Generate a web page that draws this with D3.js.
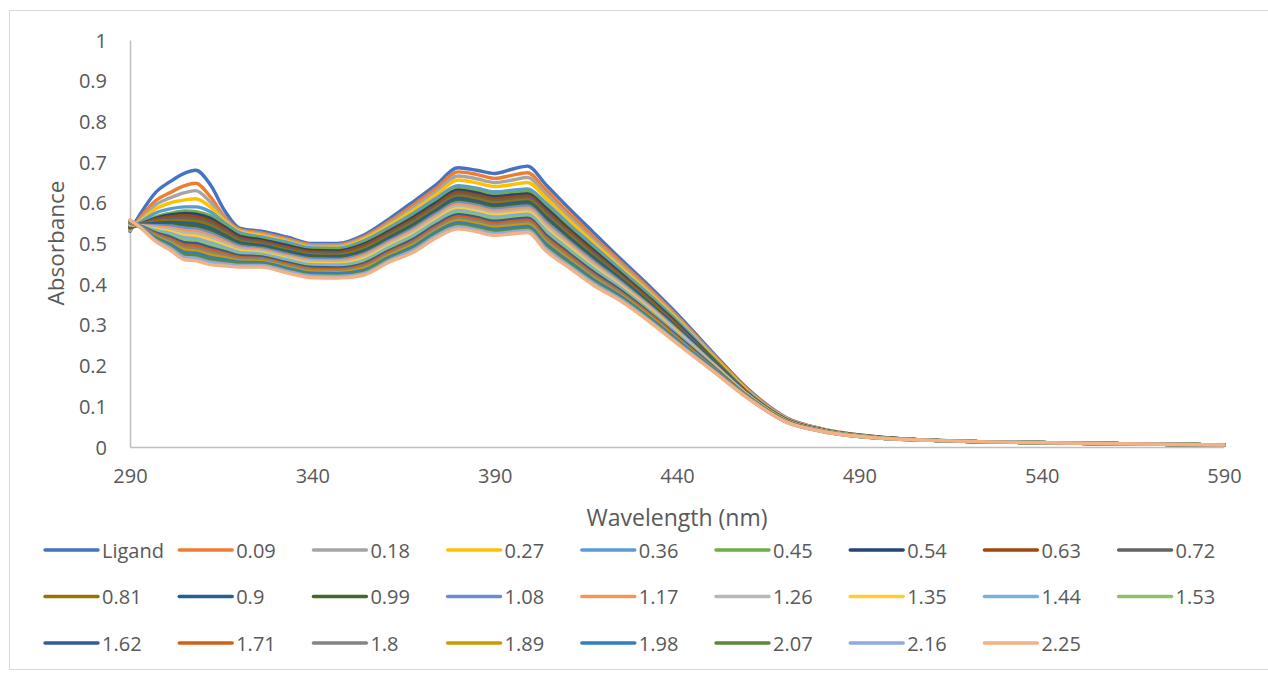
<!DOCTYPE html>
<html>
<head>
<meta charset="utf-8">
<script src="https://cdn.jsdelivr.net/npm/d3@7"></script>
<style>
  html, body { margin: 0; padding: 0; background: #fff; }
  svg { display: block; font-family: "Open Sans", "Noto Sans", sans-serif; }
</style>
</head>
<body>
<svg id="chart" width="1268" height="677"></svg>
<script>
// Wavelength grid (nm)
const wavelengths = [290,293,297,301,305,308,312,316,320,326,333,340,347,354,361,368,374,380,385,390,395,399,404,410,417,425,433,441,450,460,470,480,495,515,545,590];

// Titration series: free ligand, then added equivalents
const seriesNames = ["Ligand","0.09","0.18","0.27","0.36","0.45","0.54","0.63","0.72","0.81","0.9","0.99","1.08","1.17","1.26","1.35","1.44","1.53","1.62","1.71","1.8","1.89","1.98","2.07","2.16","2.25"];

const seriesColors = ["#4472C4","#ED7D31","#A5A5A5","#FFC000","#5B9BD5","#70AD47","#264478","#9E480E","#636363","#997300","#255E91","#43682B","#698ED0","#F1975A","#B7B7B7","#FFCD33","#7CAFDD","#8CC168","#335AA1","#D26012","#848484","#CC9A00","#327EC2","#5A8A39","#8FAADC","#F4B183"];

// Absorbance of each series at the wavelengths above
const absorbance = [
  [.530,.575,.625,.652,.673,.680,.645,.580,.538,.530,.516,.500,.500,.520,.560,.605,.645,.686,.680,.672,.683,.690,.645,.590,.528,.458,.390,.318,.230,.138,.072,.044,.025,.015,.010,.005],
  [.532,.566,.605,.625,.642,.648,.615,.565,.535,.526,.512,.497,.497,.516,.554,.597,.636,.676,.670,.660,.668,.674,.632,.578,.518,.451,.384,.313,.227,.136,.071,.044,.025,.015,.010,.005],
  [.533,.561,.595,.612,.625,.630,.602,.560,.532,.523,.509,.494,.494,.513,.549,.590,.628,.666,.659,.650,.656,.662,.622,.568,.510,.444,.379,.309,.224,.134,.070,.043,.025,.015,.010,.005],
  [.535,.557,.585,.600,.607,.610,.590,.555,.530,.520,.506,.491,.491,.510,.544,.583,.620,.656,.649,.640,.645,.650,.612,.560,.503,.438,.374,.305,.221,.132,.069,.043,.024,.015,.010,.005],
  [.536,.553,.575,.585,.590,.590,.578,.550,.527,.516,.503,.489,.488,.506,.539,.576,.611,.642,.636,.627,.631,.634,.600,.550,.495,.432,.369,.301,.218,.130,.068,.042,.024,.015,.010,.005],
  [.538,.548,.565,.574,.580,.578,.568,.545,.522,.512,.498,.486,.485,.502,.534,.570,.604,.636,.629,.620,.624,.627,.592,.543,.488,.426,.364,.297,.215,.128,.067,.042,.024,.015,.010,.005],
  [.539,.548,.562,.570,.574,.572,.562,.540,.518,.509,.495,.483,.482,.498,.530,.566,.600,.631,.624,.615,.619,.622,.587,.538,.484,.423,.361,.295,.214,.127,.067,.042,.024,.015,.010,.005],
  [.540,.547,.559,.565,.568,.566,.556,.535,.514,.505,.491,.479,.478,.494,.526,.561,.595,.626,.619,.610,.614,.617,.581,.533,.479,.419,.358,.292,.212,.127,.066,.042,.024,.015,.010,.005],
  [.541,.547,.556,.561,.562,.560,.550,.530,.510,.502,.488,.476,.475,.490,.522,.557,.591,.621,.614,.605,.609,.612,.576,.528,.475,.416,.355,.290,.211,.126,.066,.041,.024,.015,.010,.005],
  [.542,.546,.553,.556,.556,.554,.544,.525,.506,.498,.484,.472,.471,.486,.518,.552,.586,.616,.609,.600,.604,.607,.570,.523,.470,.412,.352,.287,.209,.126,.066,.041,.023,.015,.010,.005],
  [.543,.546,.550,.552,.550,.548,.538,.520,.502,.495,.481,.469,.468,.482,.514,.548,.582,.611,.604,.595,.599,.602,.565,.518,.466,.409,.349,.285,.208,.125,.066,.041,.023,.015,.010,.005],
  [.544,.545,.547,.547,.544,.542,.532,.515,.498,.491,.477,.465,.464,.478,.510,.543,.577,.606,.599,.590,.594,.597,.559,.513,.461,.405,.346,.282,.206,.124,.065,.041,.023,.015,.010,.005],
  [.545,.545,.544,.543,.538,.536,.526,.510,.494,.488,.474,.462,.461,.474,.506,.539,.573,.601,.594,.585,.589,.592,.554,.508,.457,.402,.343,.280,.205,.124,.065,.041,.023,.015,.010,.005],
  [.546,.544,.541,.538,.532,.530,.520,.505,.490,.484,.470,.458,.457,.470,.502,.534,.568,.596,.589,.580,.584,.587,.548,.503,.452,.398,.340,.277,.203,.123,.065,.040,.023,.015,.010,.005],
  [.547,.544,.538,.534,.526,.524,.514,.500,.486,.481,.467,.455,.454,.466,.498,.530,.564,.591,.584,.575,.579,.582,.543,.498,.448,.395,.337,.275,.202,.123,.064,.040,.023,.015,.010,.005],
  [.548,.543,.535,.529,.520,.518,.508,.495,.482,.477,.463,.451,.450,.462,.494,.525,.559,.586,.579,.570,.574,.577,.537,.493,.443,.391,.334,.272,.200,.122,.064,.040,.023,.015,.010,.005],
  [.549,.543,.532,.525,.514,.512,.502,.490,.478,.474,.460,.448,.447,.458,.490,.521,.555,.581,.574,.565,.569,.572,.532,.488,.439,.388,.331,.270,.199,.121,.064,.040,.023,.015,.010,.005],
  [.550,.542,.529,.520,.508,.506,.496,.485,.474,.470,.456,.444,.443,.454,.486,.516,.550,.576,.569,.560,.564,.567,.526,.483,.434,.384,.328,.267,.197,.121,.063,.040,.023,.015,.010,.005],
  [.551,.542,.526,.516,.502,.500,.490,.480,.470,.467,.453,.441,.440,.450,.482,.512,.546,.571,.564,.555,.559,.562,.521,.478,.430,.381,.325,.265,.196,.120,.063,.039,.023,.015,.010,.005],
  [.552,.541,.523,.511,.496,.494,.484,.475,.466,.463,.449,.437,.436,.446,.478,.507,.541,.566,.559,.550,.554,.557,.515,.473,.425,.377,.322,.262,.194,.120,.063,.039,.023,.015,.010,.005],
  [.553,.541,.520,.507,.490,.488,.478,.470,.462,.460,.446,.434,.433,.442,.474,.503,.537,.561,.554,.545,.549,.552,.510,.468,.421,.374,.319,.260,.193,.119,.062,.039,.022,.015,.010,.005],
  [.554,.540,.517,.502,.484,.482,.472,.465,.458,.456,.442,.430,.429,.438,.470,.498,.532,.556,.549,.540,.544,.547,.504,.463,.416,.370,.316,.257,.191,.118,.062,.039,.022,.015,.010,.005],
  [.555,.540,.514,.498,.478,.476,.466,.460,.454,.453,.439,.427,.426,.434,.466,.494,.528,.551,.544,.535,.539,.542,.499,.458,.412,.367,.313,.255,.190,.118,.062,.039,.022,.015,.010,.005],
  [.556,.539,.511,.493,.472,.470,.460,.455,.450,.449,.435,.423,.422,.430,.462,.489,.523,.546,.539,.530,.534,.537,.493,.453,.407,.363,.310,.252,.188,.117,.062,.038,.022,.015,.010,.005],
  [.557,.539,.508,.489,.466,.464,.454,.450,.446,.446,.432,.420,.419,.426,.458,.485,.519,.541,.534,.525,.529,.532,.488,.448,.403,.360,.307,.250,.187,.117,.061,.038,.022,.015,.010,.005],
  [.558,.538,.505,.484,.460,.458,.448,.445,.442,.442,.428,.416,.415,.422,.454,.480,.514,.536,.529,.520,.524,.527,.482,.443,.398,.356,.304,.247,.185,.116,.061,.038,.022,.015,.010,.005]
];

const xTicks = [290,340,390,440,490,540,590];
const yTicks = [0,0.1,0.2,0.3,0.4,0.5,0.6,0.7,0.8,0.9,1];

const svg = d3.select("#chart");
const textColor = "#595959";
const axisColor = "#bfbfbf";

// chart frame
svg.append("rect")
  .attr("x", 9.5).attr("y", 10.5)
  .attr("width", 1270).attr("height", 659)
  .attr("fill", "#fff").attr("stroke", "#d9d9d9").attr("stroke-width", 1);

const plot = { left: 130, right: 1224, top: 40, bottom: 447 };

const x = d3.scaleLinear().domain([290, 590]).range([plot.left, plot.right]);
const y = d3.scaleLinear().domain([0, 1]).range([plot.bottom, plot.top]);

// axes
const yAxis = svg.append("g")
  .attr("transform", `translate(${plot.left},0)`)
  .call(d3.axisLeft(y).tickValues(yTicks).tickSize(0).tickPadding(23).tickFormat(d => String(d)));
const xAxis = svg.append("g")
  .attr("transform", `translate(0,${plot.bottom})`)
  .call(d3.axisBottom(x).tickValues(xTicks).tickSize(0).tickPadding(22).tickFormat(d => String(d)));

[xAxis, yAxis].forEach(g => {
  g.select(".domain").attr("stroke", axisColor).attr("stroke-width", 1.5);
  g.selectAll("text")
    .attr("fill", textColor)
    .style("font-size", "20px")
    .style("font-family", '"Open Sans", sans-serif');
});
yAxis.selectAll("text").attr("dy", "0.35em");
xAxis.selectAll("text").attr("dy", "0.71em");

// axis titles
svg.append("text")
  .attr("x", 677).attr("y", 517)
  .attr("text-anchor", "middle").attr("dominant-baseline", "central")
  .attr("fill", textColor).style("font-size", "23px")
  .text("Wavelength (nm)");

svg.append("text")
  .attr("transform", "translate(55,243) rotate(-90)")
  .attr("text-anchor", "middle").attr("dominant-baseline", "central")
  .attr("fill", textColor).style("font-size", "22.5px")
  .text("Absorbance");

// spectra
const line = d3.line()
  .x((d, i) => x(wavelengths[i]))
  .y(d => y(d))
  .curve(d3.curveMonotoneX);

svg.append("g")
  .selectAll("path")
  .data(absorbance)
  .join("path")
  .attr("d", d => line(d))
  .attr("fill", "none")
  .attr("stroke", (d, i) => seriesColors[i])
  .attr("stroke-width", 3.4)
  .attr("stroke-linejoin", "round")
  .attr("stroke-linecap", "round");

// legend
const legend = svg.append("g");
const colW = 134.2, rowH = 46.5, lx0 = 45, ly0 = 550;
seriesNames.forEach((name, i) => {
  const col = i % 9, row = Math.floor(i / 9);
  const gx = lx0 + col * colW, gy = ly0 + row * rowH;
  legend.append("line")
    .attr("x1", gx).attr("x2", gx + 53)
    .attr("y1", gy).attr("y2", gy)
    .attr("stroke", seriesColors[i]).attr("stroke-width", 3.4)
    .attr("stroke-linecap", "round");
  legend.append("text")
    .attr("x", gx + 57).attr("y", gy)
    .attr("dominant-baseline", "central")
    .attr("fill", textColor).style("font-size", "20px")
    .text(name);
});
</script>
</body>
</html>
